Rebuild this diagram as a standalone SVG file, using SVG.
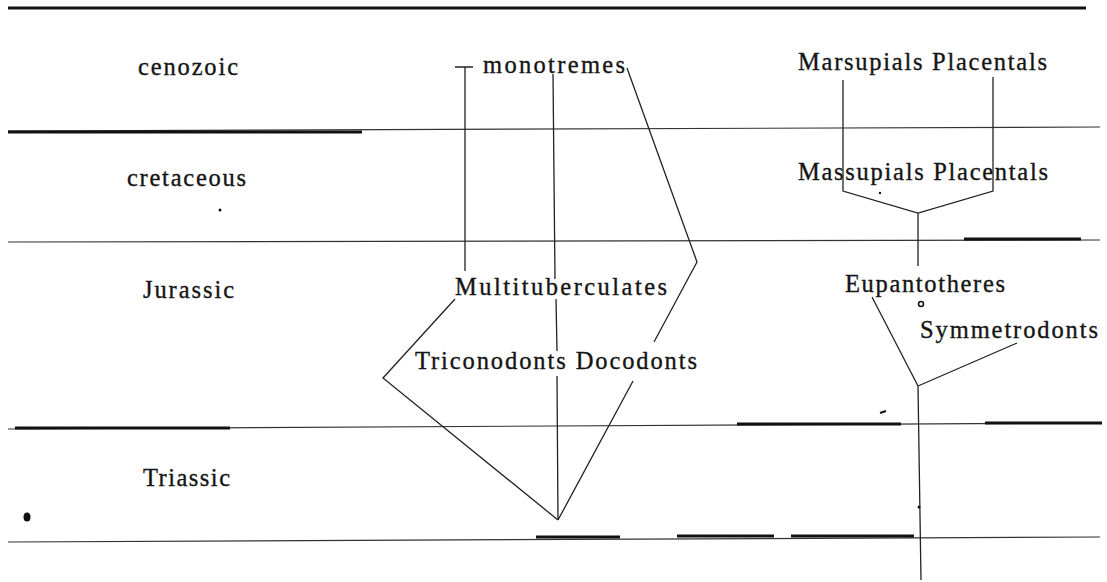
<svg xmlns="http://www.w3.org/2000/svg" width="1107" height="582" viewBox="0 0 1107 582">
<style>
  .t { font-family: "Liberation Serif", "Times New Roman", serif; font-size: 24.5px; fill: #151515; stroke: #151515; stroke-width: 0.35; }
  .thin { stroke: #333; stroke-width: 1.2; fill: none; }
  .thick { stroke: #111; stroke-width: 3.2; fill: none; }
  .c { stroke: #222; stroke-width: 1.3; fill: none; }
</style>
<rect width="1107" height="582" fill="#fff"/>
<g id="timescale">
  <line class="thick" x1="8" y1="8" x2="1086" y2="8"/>
  <path class="thin" d="M8,131 L1100,127"/>
  <line class="thick" x1="8" y1="132" x2="362" y2="132"/>
  <path class="thin" d="M8,242 L1100,240"/>
  <line class="thick" x1="964" y1="239" x2="1081" y2="239"/>
  <path class="thin" d="M8,429 L1100,423"/>
  <line class="thick" x1="15" y1="428" x2="230" y2="428"/>
  <line class="thick" x1="737" y1="424" x2="901" y2="424"/>
  <line class="thick" x1="985" y1="423" x2="1102" y2="423"/>
  <path class="thin" d="M8,542 L1100,537"/>
  <line class="thick" x1="536" y1="537" x2="620" y2="537"/>
  <line class="thick" x1="677" y1="536" x2="774" y2="536"/>
  <line class="thick" x1="791" y1="536" x2="914" y2="536"/>
</g>
<g id="era-labels">
  <text class="t" x="138" y="75" textLength="100" lengthAdjust="spacing">cenozoic</text>
  <text class="t" x="127" y="186" textLength="119" lengthAdjust="spacing">cretaceous</text>
  <text class="t" x="143" y="298" textLength="91" lengthAdjust="spacing">Jurassic</text>
  <text class="t" x="143" y="486" textLength="87" lengthAdjust="spacing">Triassic</text>
</g>
<g id="node-monotremes"><text class="t" x="483" y="73" textLength="142" lengthAdjust="spacing">monotremes</text></g>
<g id="node-marsupials-placentals-top"><text class="t" x="798" y="70" textLength="249" lengthAdjust="spacing">Marsupials Placentals</text></g>
<g id="node-massupials-placentals"><text class="t" x="798" y="180" textLength="250" lengthAdjust="spacing">Massupials Placentals</text></g>
<g id="node-multituberculates"><text class="t" x="455" y="295" textLength="212" lengthAdjust="spacing">Multituberculates</text></g>
<g id="node-eupantotheres"><text class="t" x="845" y="292" textLength="160" lengthAdjust="spacing">Eupantotheres</text></g>
<g id="node-symmetrodonts"><text class="t" x="920" y="338" textLength="178" lengthAdjust="spacing">Symmetrodonts</text></g>
<g id="node-triconodonts-docodonts"><text class="t" x="415" y="369" textLength="282" lengthAdjust="spacing">Triconodonts Docodonts</text></g>
<g id="connectors">
  <path class="c" d="M455,67 H473 M465,67 V271"/>
  <path class="c" d="M553,74 L555,279 M556,299 L557,351 M557,376 L558,520"/>
  <path class="c" d="M627,68 L697,262 L654,342 M633,381 L558,520"/>
  <path class="c" d="M455,299 L383,378 L558,520"/>
  <path class="c" d="M843,80 V191 L918,213 L993,191 V77 M918,213 V266"/>
  <path class="c" d="M872,297 L918,386 L1017,343 M918,386 L921,580"/>
</g>
<g id="specks" fill="#111">
  <ellipse cx="27" cy="517" rx="3.5" ry="4.5"/>
  <circle cx="220" cy="210" r="1.5"/>
  <circle cx="921" cy="304" r="2.5" fill="none" stroke="#111" stroke-width="1.5"/>
  <circle cx="919" cy="507" r="1.5"/>
  <circle cx="880" cy="193" r="1.2"/>
  <path d="M880,413 L886,411" stroke="#111" stroke-width="2"/>
</g>
</svg>
